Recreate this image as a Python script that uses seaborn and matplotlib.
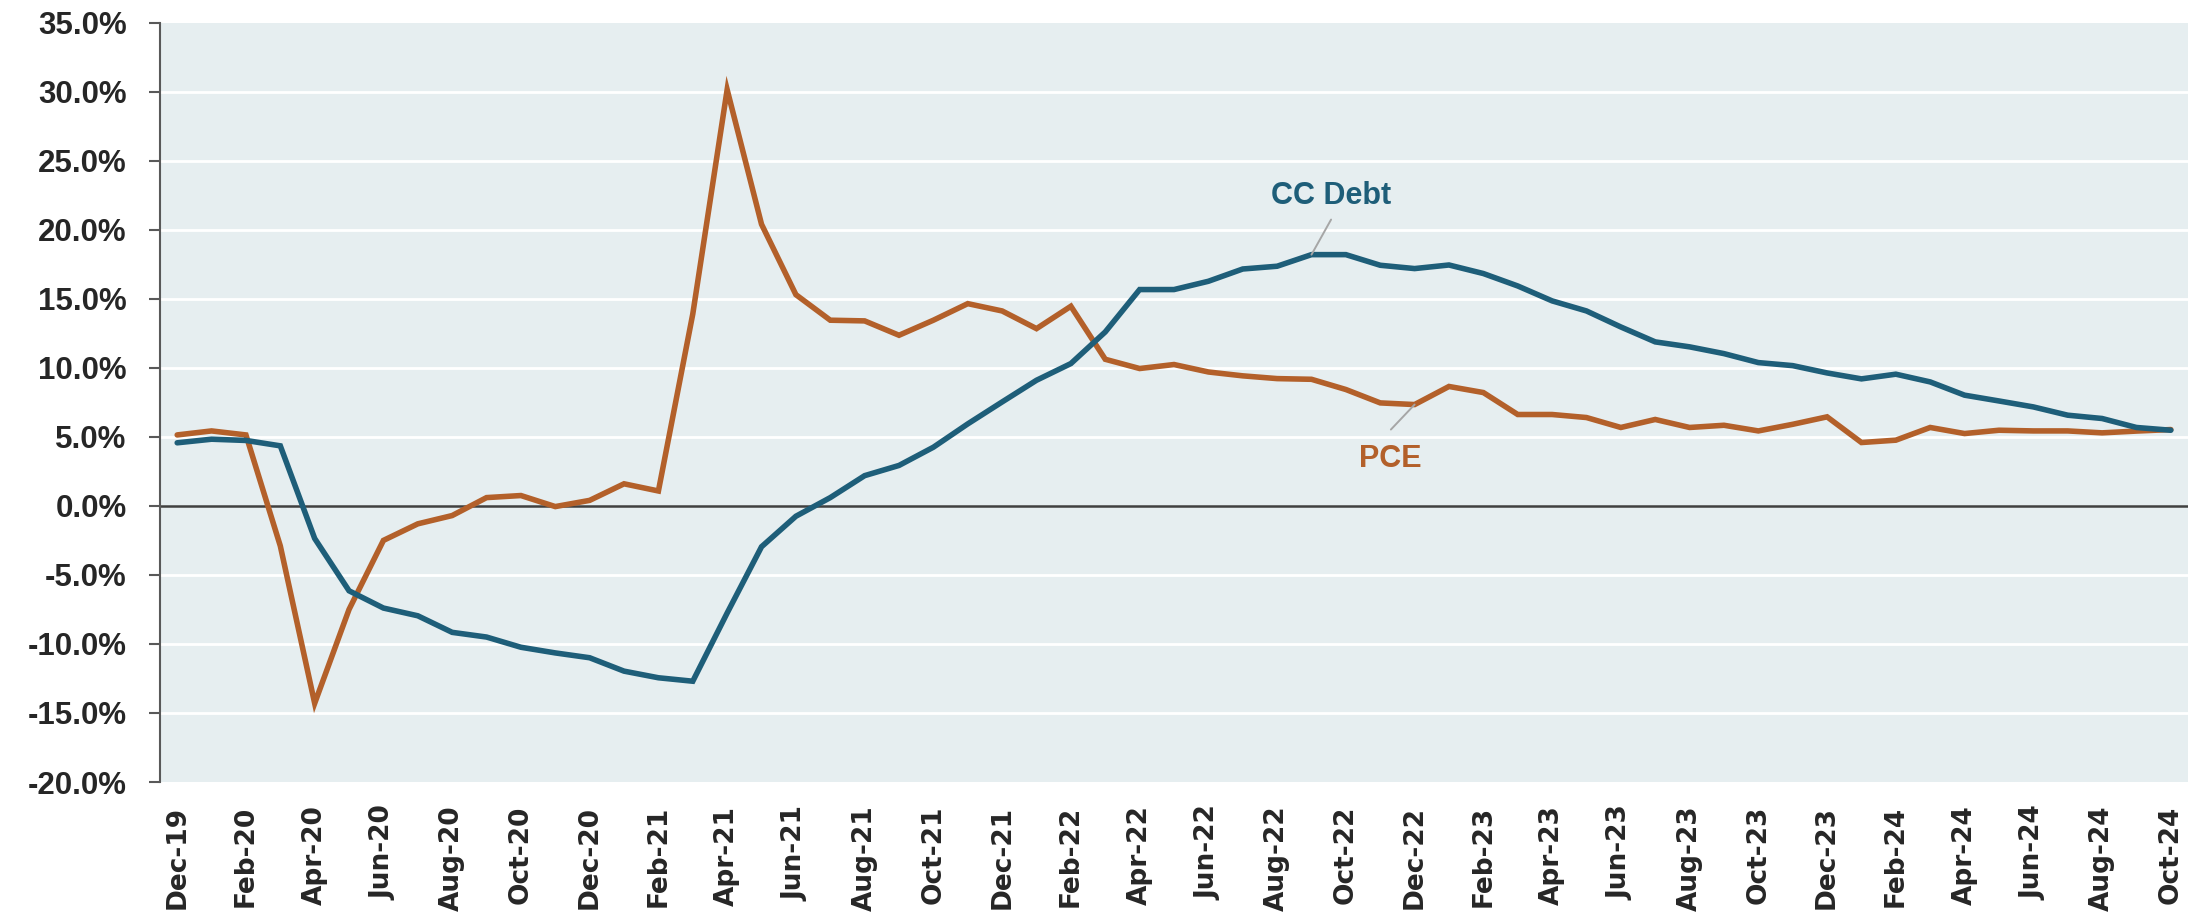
import matplotlib
matplotlib.use("Agg")
import matplotlib.pyplot as plt
import matplotlib.ticker as mticker
import pandas as pd
import seaborn as sns

# ── Data (YoY % change) ──────────────────────────────────────────────────────
months = ["Dec-19", "Jan-20", "Feb-20", "Mar-20", "Apr-20", "May-20", "Jun-20",
          "Jul-20", "Aug-20", "Sep-20", "Oct-20", "Nov-20", "Dec-20", "Jan-21",
          "Feb-21", "Mar-21", "Apr-21", "May-21", "Jun-21", "Jul-21", "Aug-21",
          "Sep-21", "Oct-21", "Nov-21", "Dec-21", "Jan-22", "Feb-22", "Mar-22",
          "Apr-22", "May-22", "Jun-22", "Jul-22", "Aug-22", "Sep-22", "Oct-22",
          "Nov-22", "Dec-22", "Jan-23", "Feb-23", "Mar-23", "Apr-23", "May-23",
          "Jun-23", "Jul-23", "Aug-23", "Sep-23", "Oct-23", "Nov-23", "Dec-23",
          "Jan-24", "Feb-24", "Mar-24", "Apr-24", "May-24", "Jun-24", "Jul-24",
          "Aug-24", "Sep-24", "Oct-24"]

cc_debt = [4.57, 4.83, 4.74, 4.35, -2.36, -6.15, -7.40, -7.96, -9.16, -9.50,
           -10.24, -10.65, -11.00, -11.97, -12.45, -12.70, -7.76, -2.96, -0.75,
           0.60, 2.19, 2.93, 4.25, 5.94, 7.53, 9.10, 10.31, 12.60, 15.67, 15.67,
           16.27, 17.16, 17.36, 18.20, 18.20, 17.43, 17.19, 17.45, 16.83, 15.93,
           14.85, 14.12, 12.96, 11.88, 11.52, 11.03, 10.38, 10.16, 9.63, 9.20,
           9.54, 8.98, 8.02, 7.60, 7.17, 6.57, 6.33, 5.68, 5.48]

pce = [5.14, 5.43, 5.14, -2.90, -14.30, -7.50, -2.50, -1.30, -0.70, 0.60,
       0.75, -0.05, 0.40, 1.60, 1.08, 13.90, 30.15, 20.40, 15.30, 13.45, 13.40,
       12.36, 13.45, 14.65, 14.12, 12.84, 14.46, 10.62, 9.95, 10.24, 9.70, 9.42,
       9.22, 9.17, 8.43, 7.46, 7.34, 8.65, 8.21, 6.62, 6.62, 6.40, 5.68, 6.26,
       5.68, 5.84, 5.43, 5.91, 6.45, 4.59, 4.76, 5.68, 5.24, 5.48, 5.43, 5.43,
       5.29, 5.42, 5.53]

y_ticks = [-20, -15, -10, -5, 0, 5, 10, 15, 20, 25, 30, 35]

# ── Palette ───────────────────────────────────────────────────────────────────
BLUE   = "#1E5E79"
ORANGE = "#B3602A"
BG     = "#E6EEF0"
SPINE  = "#595959"
LEADER = "#A6A6A6"

df = pd.DataFrame({
    "idx": list(range(len(months))) * 2,
    "value": cc_debt + pce,
    "series": ["CC Debt"] * len(months) + ["PCE"] * len(months),
})

sns.set_theme(style="white")
plt.rcParams["font.family"] = ["Liberation Sans", "DejaVu Sans"]

W, H = 2204, 913
fig = plt.figure(figsize=(W / 100, H / 100), dpi=100)
ax = fig.add_axes([160 / W, (H - 782) / H, (2188 - 160) / W, (782 - 22.7) / H])
ax.set_facecolor(BG)

sns.lineplot(data=df, x="idx", y="value", hue="series",
             palette={"CC Debt": BLUE, "PCE": ORANGE},
             hue_order=["PCE", "CC Debt"], linewidth=4.0,
             legend=False, ax=ax, zorder=3)
for ln in ax.lines:
    ln.set_solid_capstyle("round")
    ln.set_solid_joinstyle("miter")

ax.set_xlim(-0.5, len(months) - 0.5)
ax.set_ylim(-20, 35)

# grid + zero line
ax.set_yticks(y_ticks)
for v in y_ticks:
    if v not in (0, -20, 35):
        ax.axhline(v, color="white", lw=2.0, zorder=1)
ax.axhline(0, color="#404040", lw=1.8, zorder=2)

ax.yaxis.set_major_formatter(mticker.FuncFormatter(lambda x, _: f"{x:.1f}%"))
ax.tick_params(axis="y", which="major", direction="out", length=8, width=1.5,
               color=SPINE, pad=16, labelsize=22.5, left=True)
for lab in ax.get_yticklabels():
    lab.set_fontweight("bold")

ax.set_xticks(range(0, len(months), 2))
ax.set_xticklabels(months[::2], rotation=90, fontsize=19, fontweight="bold",
                   family="DejaVu Sans")
ax.tick_params(axis="x", length=0, pad=17)

for s in ["top", "right", "bottom"]:
    ax.spines[s].set_visible(False)
ax.spines["left"].set_color(SPINE)
ax.spines["left"].set_linewidth(1.5)
ax.set_xlabel("")
ax.set_ylabel("")

# ── Series labels ────────────────────────────────────────────────────────────
ax.text(33.56, 21.85, "CC Debt", color=BLUE, fontsize=22, fontweight="bold",
        ha="center", va="baseline")
ax.annotate("", xy=(33, cc_debt[33]), xytext=(33.57, 20.74),
            arrowprops=dict(arrowstyle="-", color=LEADER, lw=1.4,
                            shrinkA=0, shrinkB=0), zorder=4)
ax.text(35.29, 2.82, "PCE", color=ORANGE, fontsize=22, fontweight="bold",
        ha="center", va="baseline")
ax.annotate("", xy=(36, pce[36]), xytext=(35.31, 5.53),
            arrowprops=dict(arrowstyle="-", color=LEADER, lw=1.4,
                            shrinkA=0, shrinkB=0), zorder=4)

fig.savefig("out.png", dpi=100, facecolor="white")
plt.close(fig)
